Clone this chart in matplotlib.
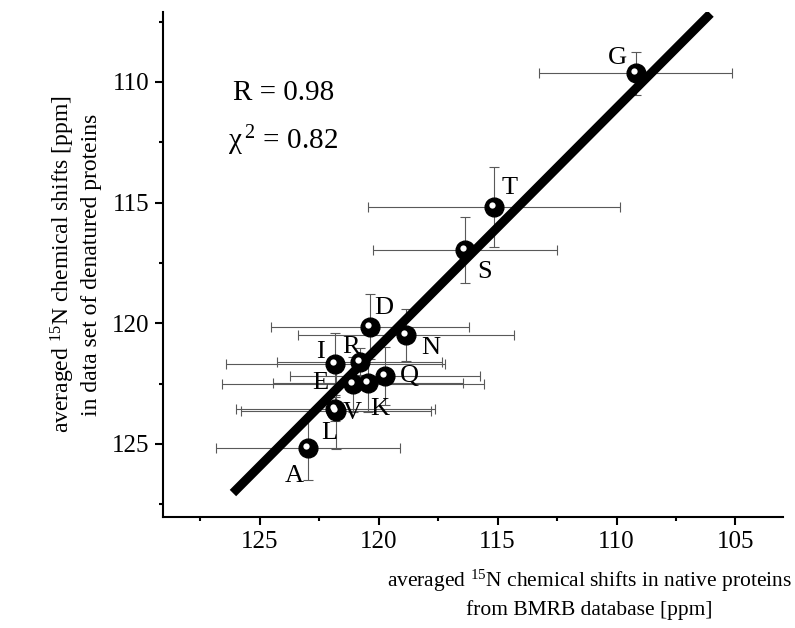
import numpy as np
import matplotlib
matplotlib.use("Agg")
import matplotlib.pyplot as plt
import matplotlib.transforms as mtransforms
from matplotlib.ticker import MultipleLocator

plt.rcParams['font.family'] = ['Liberation Serif', 'DejaVu Serif']
plt.rcParams['mathtext.fontset'] = 'custom'
plt.rcParams['mathtext.rm'] = 'Liberation Serif'
plt.rcParams['mathtext.it'] = 'Liberation Serif'

# residue labels, native (x) and denatured (y) 15N shifts in ppm
residues = ['G', 'T', 'S', 'D', 'N', 'I', 'R', 'E', 'K', 'Q', 'V', 'L', 'A']
native = [109.2, 115.16, 116.36, 120.35, 118.84, 121.81, 120.80, 121.08, 120.45, 119.72, 121.81, 121.78, 122.97]
denatured = [109.65, 115.18, 116.97, 120.14, 120.49, 121.69, 121.59, 122.53, 122.49, 122.19, 123.57, 123.62, 125.18]
native_err = [4.06, 5.3, 3.86, 4.16, 4.55, 4.59, 3.46, 5.5, 4.0, 4.0, 4.17, 3.98, 3.87]
denatured_err = [0.9, 1.65, 1.36, 1.34, 1.06, 1.27, 0.55, 1.15, 1.2, 1.2, 0.5, 1.6, 1.3]

# linear fit drawn in the figure
fit_slope = 0.99
fit_intercept = 2.18
fit_range = [126.12, 106.05]

# label offsets in pixels (dx, dy with dy pointing up)
label_offsets = {'G': (-18, 15), 'T': (16, 19), 'S': (19, -22), 'D': (13, 19),
                 'N': (25, -13), 'I': (-15, 12), 'R': (-8, 15), 'E': (-33, 1),
                 'K': (12, -26), 'Q': (24, 0), 'V': (17, -4), 'L': (-7, -22),
                 'A': (-14, -28)}

fig = plt.figure(figsize=(7.95, 6.28), dpi=100)
ax = fig.add_axes([0.205, 0.1768, 0.78, 0.8042])

ax.errorbar(native, denatured, xerr=native_err, yerr=denatured_err, fmt='none',
            ecolor='0.35', elinewidth=0.8, capsize=3.5, capthick=0.8, zorder=1)

xf = np.array(fit_range)
ax.plot(xf, fit_intercept + fit_slope * xf, color='black', lw=6.5,
        solid_capstyle='butt', zorder=2)

ax.plot(native, denatured, 'o', color='black', ms=13.5, zorder=3)
shift = mtransforms.offset_copy(ax.transData, fig=fig, x=-2, y=2, units='dots')
ax.plot(native, denatured, 'o', color='white', ms=4.5, mec='none',
        transform=shift, zorder=4)

for r, x, y in zip(residues, native, denatured):
    dx, dy = label_offsets[r]
    ax.annotate(r, (x, y), xytext=(dx * 0.72, dy * 0.72), textcoords='offset points',
                ha='center', va='center', fontsize=19, zorder=5)

ax.text(0.113, 0.84, 'R = 0.98', transform=ax.transAxes, fontsize=21,
        ha='left', va='center')
ax.text(0.105, 0.745, r'$\chi^{\,2}$ = 0.82', transform=ax.transAxes,
        fontsize=21, ha='left', va='center')

ax.set_xlim(129.06, 103.0)
ax.set_ylim(128.03, 107.1)
ax.xaxis.set_major_locator(MultipleLocator(5))
ax.xaxis.set_minor_locator(MultipleLocator(2.5))
ax.yaxis.set_major_locator(MultipleLocator(5))
ax.yaxis.set_minor_locator(MultipleLocator(2.5))
ax.tick_params(which='major', direction='out', length=6, width=1.5,
               labelsize=18, pad=4)
ax.tick_params(which='minor', direction='out', length=3, width=1.5)
for side in ['top', 'right']:
    ax.spines[side].set_visible(False)
for side in ['left', 'bottom']:
    ax.spines[side].set_linewidth(1.5)

ax.set_xlabel('averaged $^{15}$N chemical shifts in native proteins\n'
              'from BMRB database [ppm]', fontsize=15.5, linespacing=1.4)
ax.xaxis.set_label_coords(0.688, -0.1)
ax.xaxis.label.set_va('top')
ax.set_ylabel('averaged $^{15}$N chemical shifts [ppm]\n'
              'in data set of denatured proteins', fontsize=17, linespacing=1.25)
ax.yaxis.set_label_coords(-0.098, 0.5)

fig.savefig('out.png', dpi=100)
